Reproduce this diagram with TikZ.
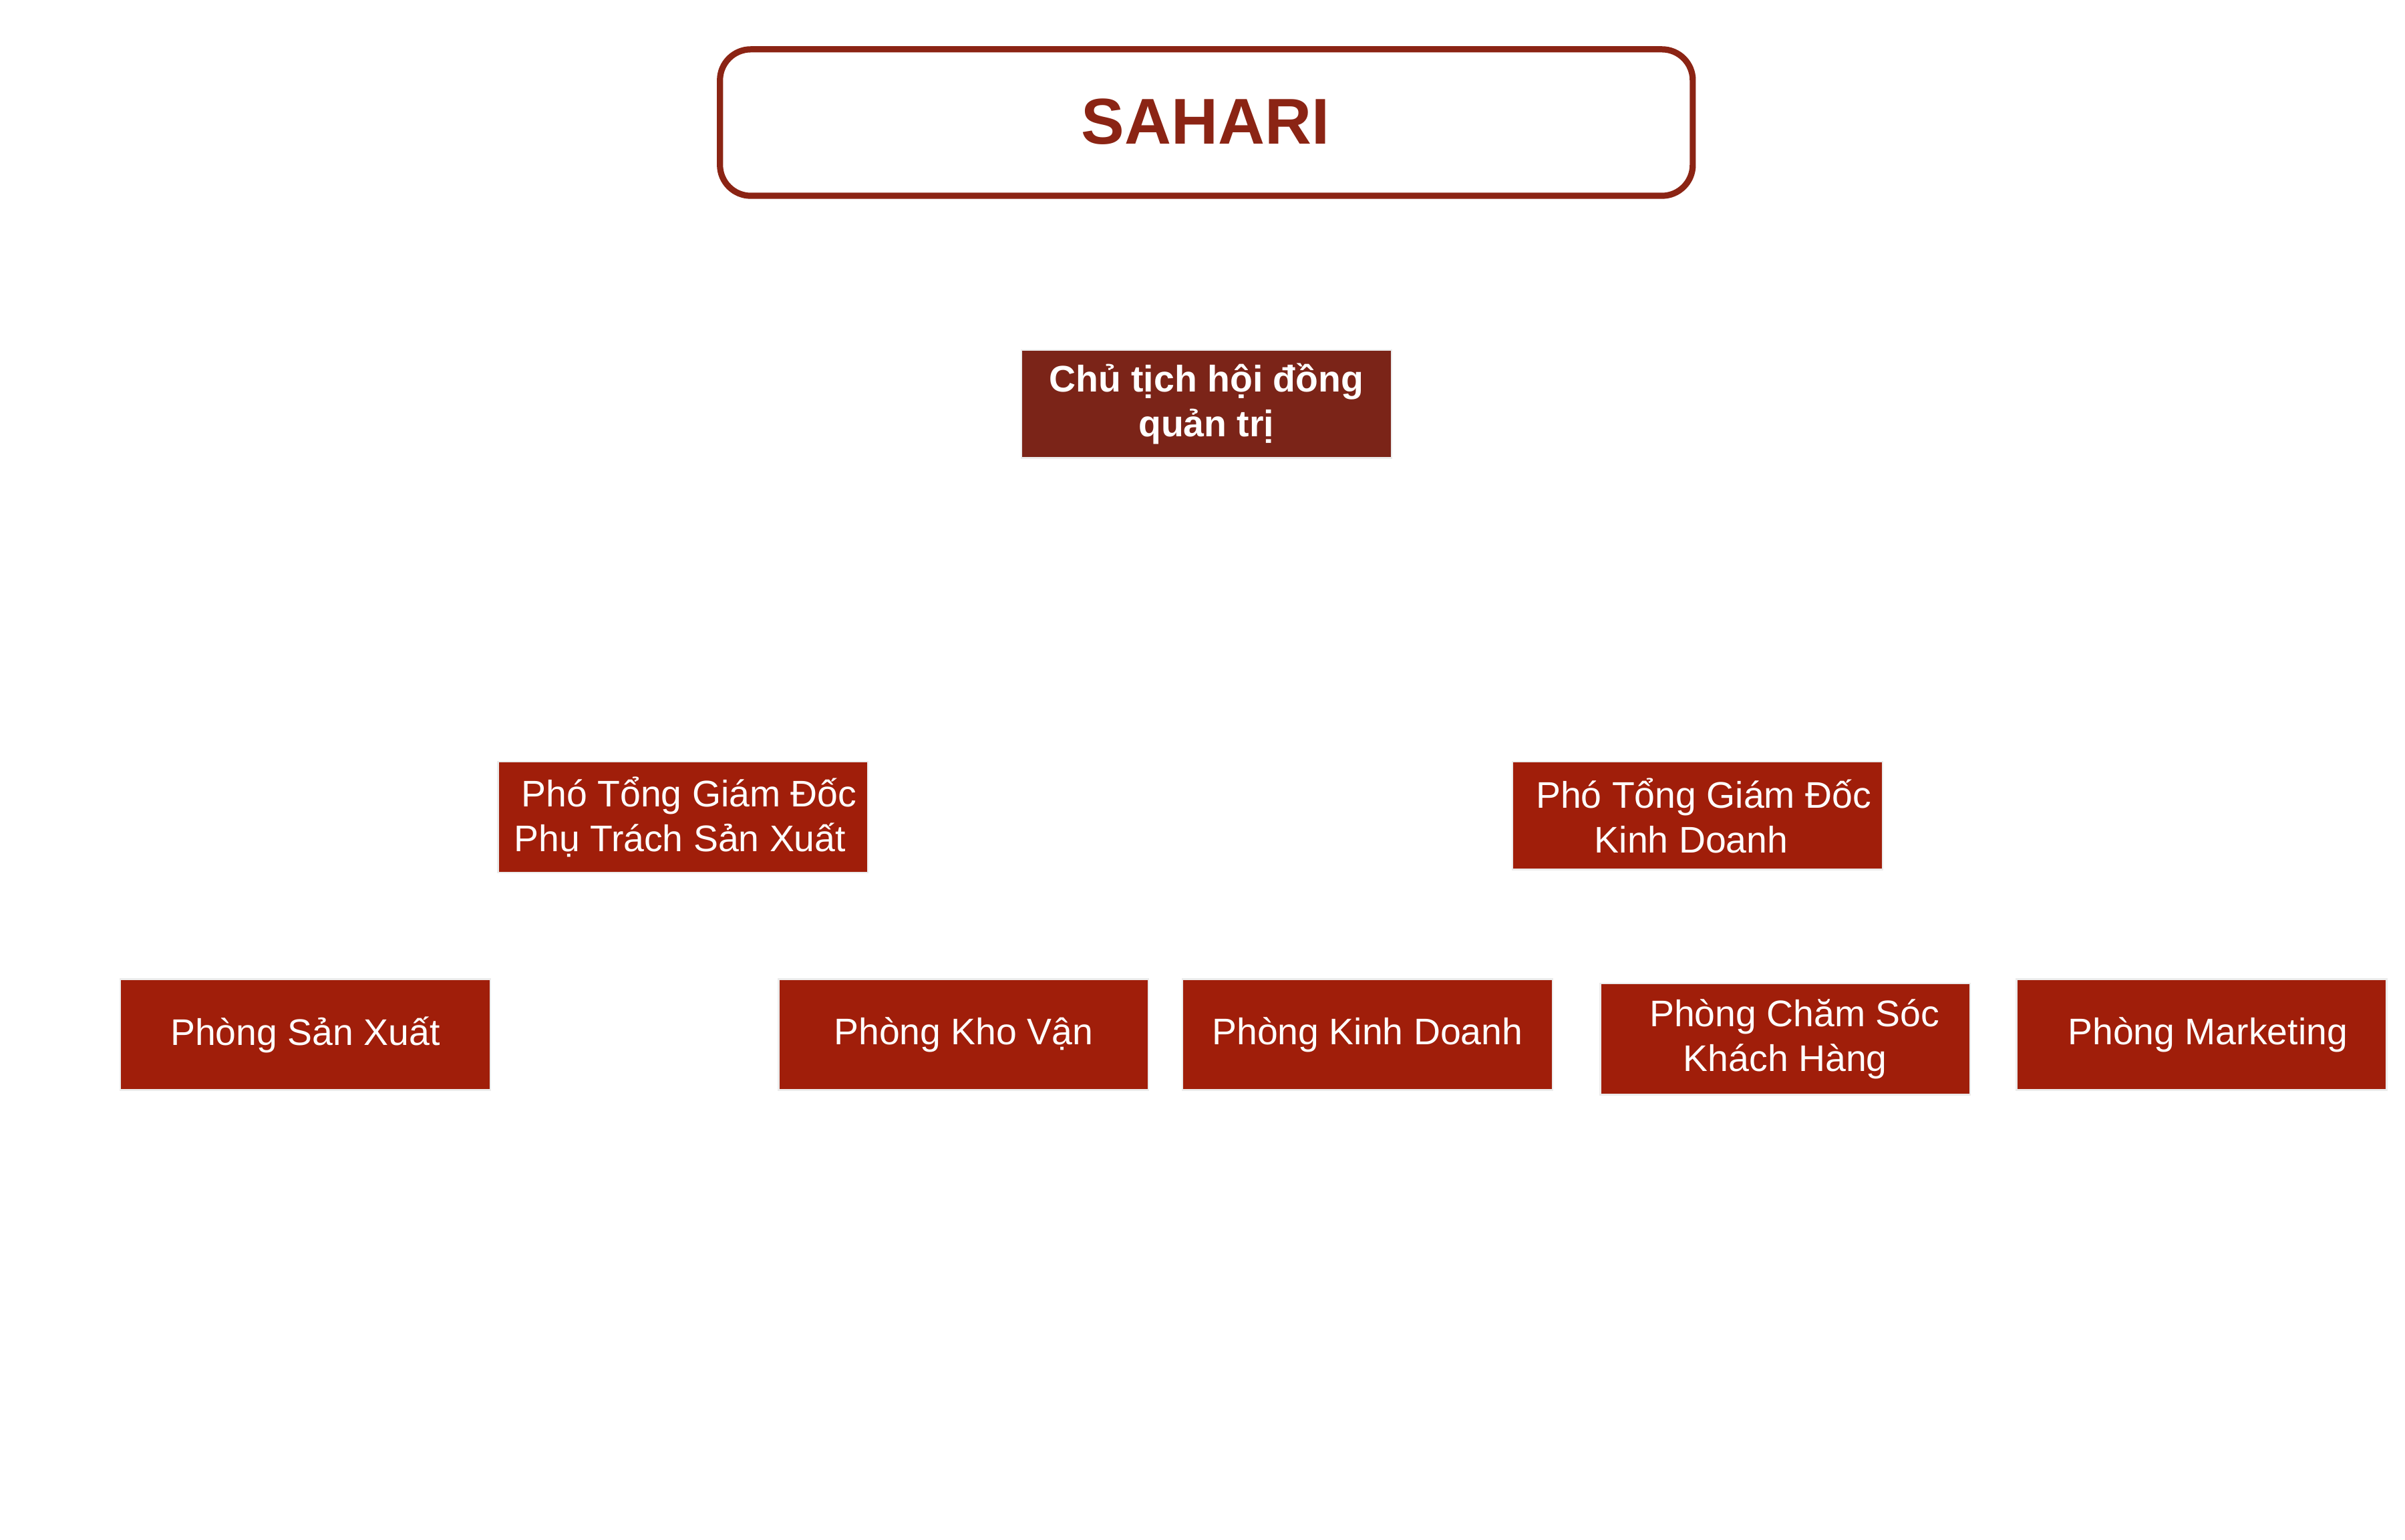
\documentclass[tikz,border=0pt]{standalone}
\usepackage{fontspec}
\setmainfont{Liberation Sans}
\definecolor{boxred}{HTML}{A01E0A}
\definecolor{darkred}{HTML}{7B2418}
\definecolor{titlered}{HTML}{8B2414}
\begin{document}
\begin{tikzpicture}[x=1pt,y=-1pt,
  unit/.style={draw=white!85!gray,line width=1pt,fill=boxred,text=white,font=\fontsize{24}{29}\selectfont,align=center,inner sep=0pt},
]
\useasboundingbox (0,0) rectangle (1560,998.4);
\fill[white] (0,0) rectangle (1560,998.4);
\draw[titlered,line width=4pt,rounded corners=20pt] (467,32) rectangle (1098,127);
\node[text=titlered,font=\bfseries\fontsize{42}{50}\selectfont] (sahari) at (782,79) {SAHARI};
\node[unit,fill=darkred,font=\bfseries\fontsize{24}{29}\selectfont,minimum width=240pt,minimum height=70pt] (ct) at (782.5,262) {Chủ tịch hội đồng\\quản trị};
\node[unit,minimum width=240pt,minimum height=72pt] (psx) at (443,530) {\,\,Phó Tổng Giám Đốc\\Phụ Trách Sản Xuất\,};
\node[unit,minimum width=240pt,minimum height=70pt] (pkd) at (1101,529) {\,\,Phó Tổng Giám Đốc\\Kinh Doanh\,\,};
\node[unit,minimum width=240pt,minimum height=72pt] (p1) at (198,671) {Phòng Sản Xuất};
\node[unit,minimum width=240pt,minimum height=72pt] (p2) at (625,671) {Phòng Kho Vận};
\node[unit,minimum width=240pt,minimum height=72pt] (p3) at (887,671) {Phòng Kinh Doanh};
\node[unit,minimum width=240pt,minimum height=72pt] (p4) at (1158,674) {\,\,\,Phòng Chăm Sóc\\Khách Hàng};
\node[unit,minimum width=240pt,minimum height=72pt] (p5) at (1428,671) {\,\,Phòng Marketing};
\end{tikzpicture}
\end{document}
